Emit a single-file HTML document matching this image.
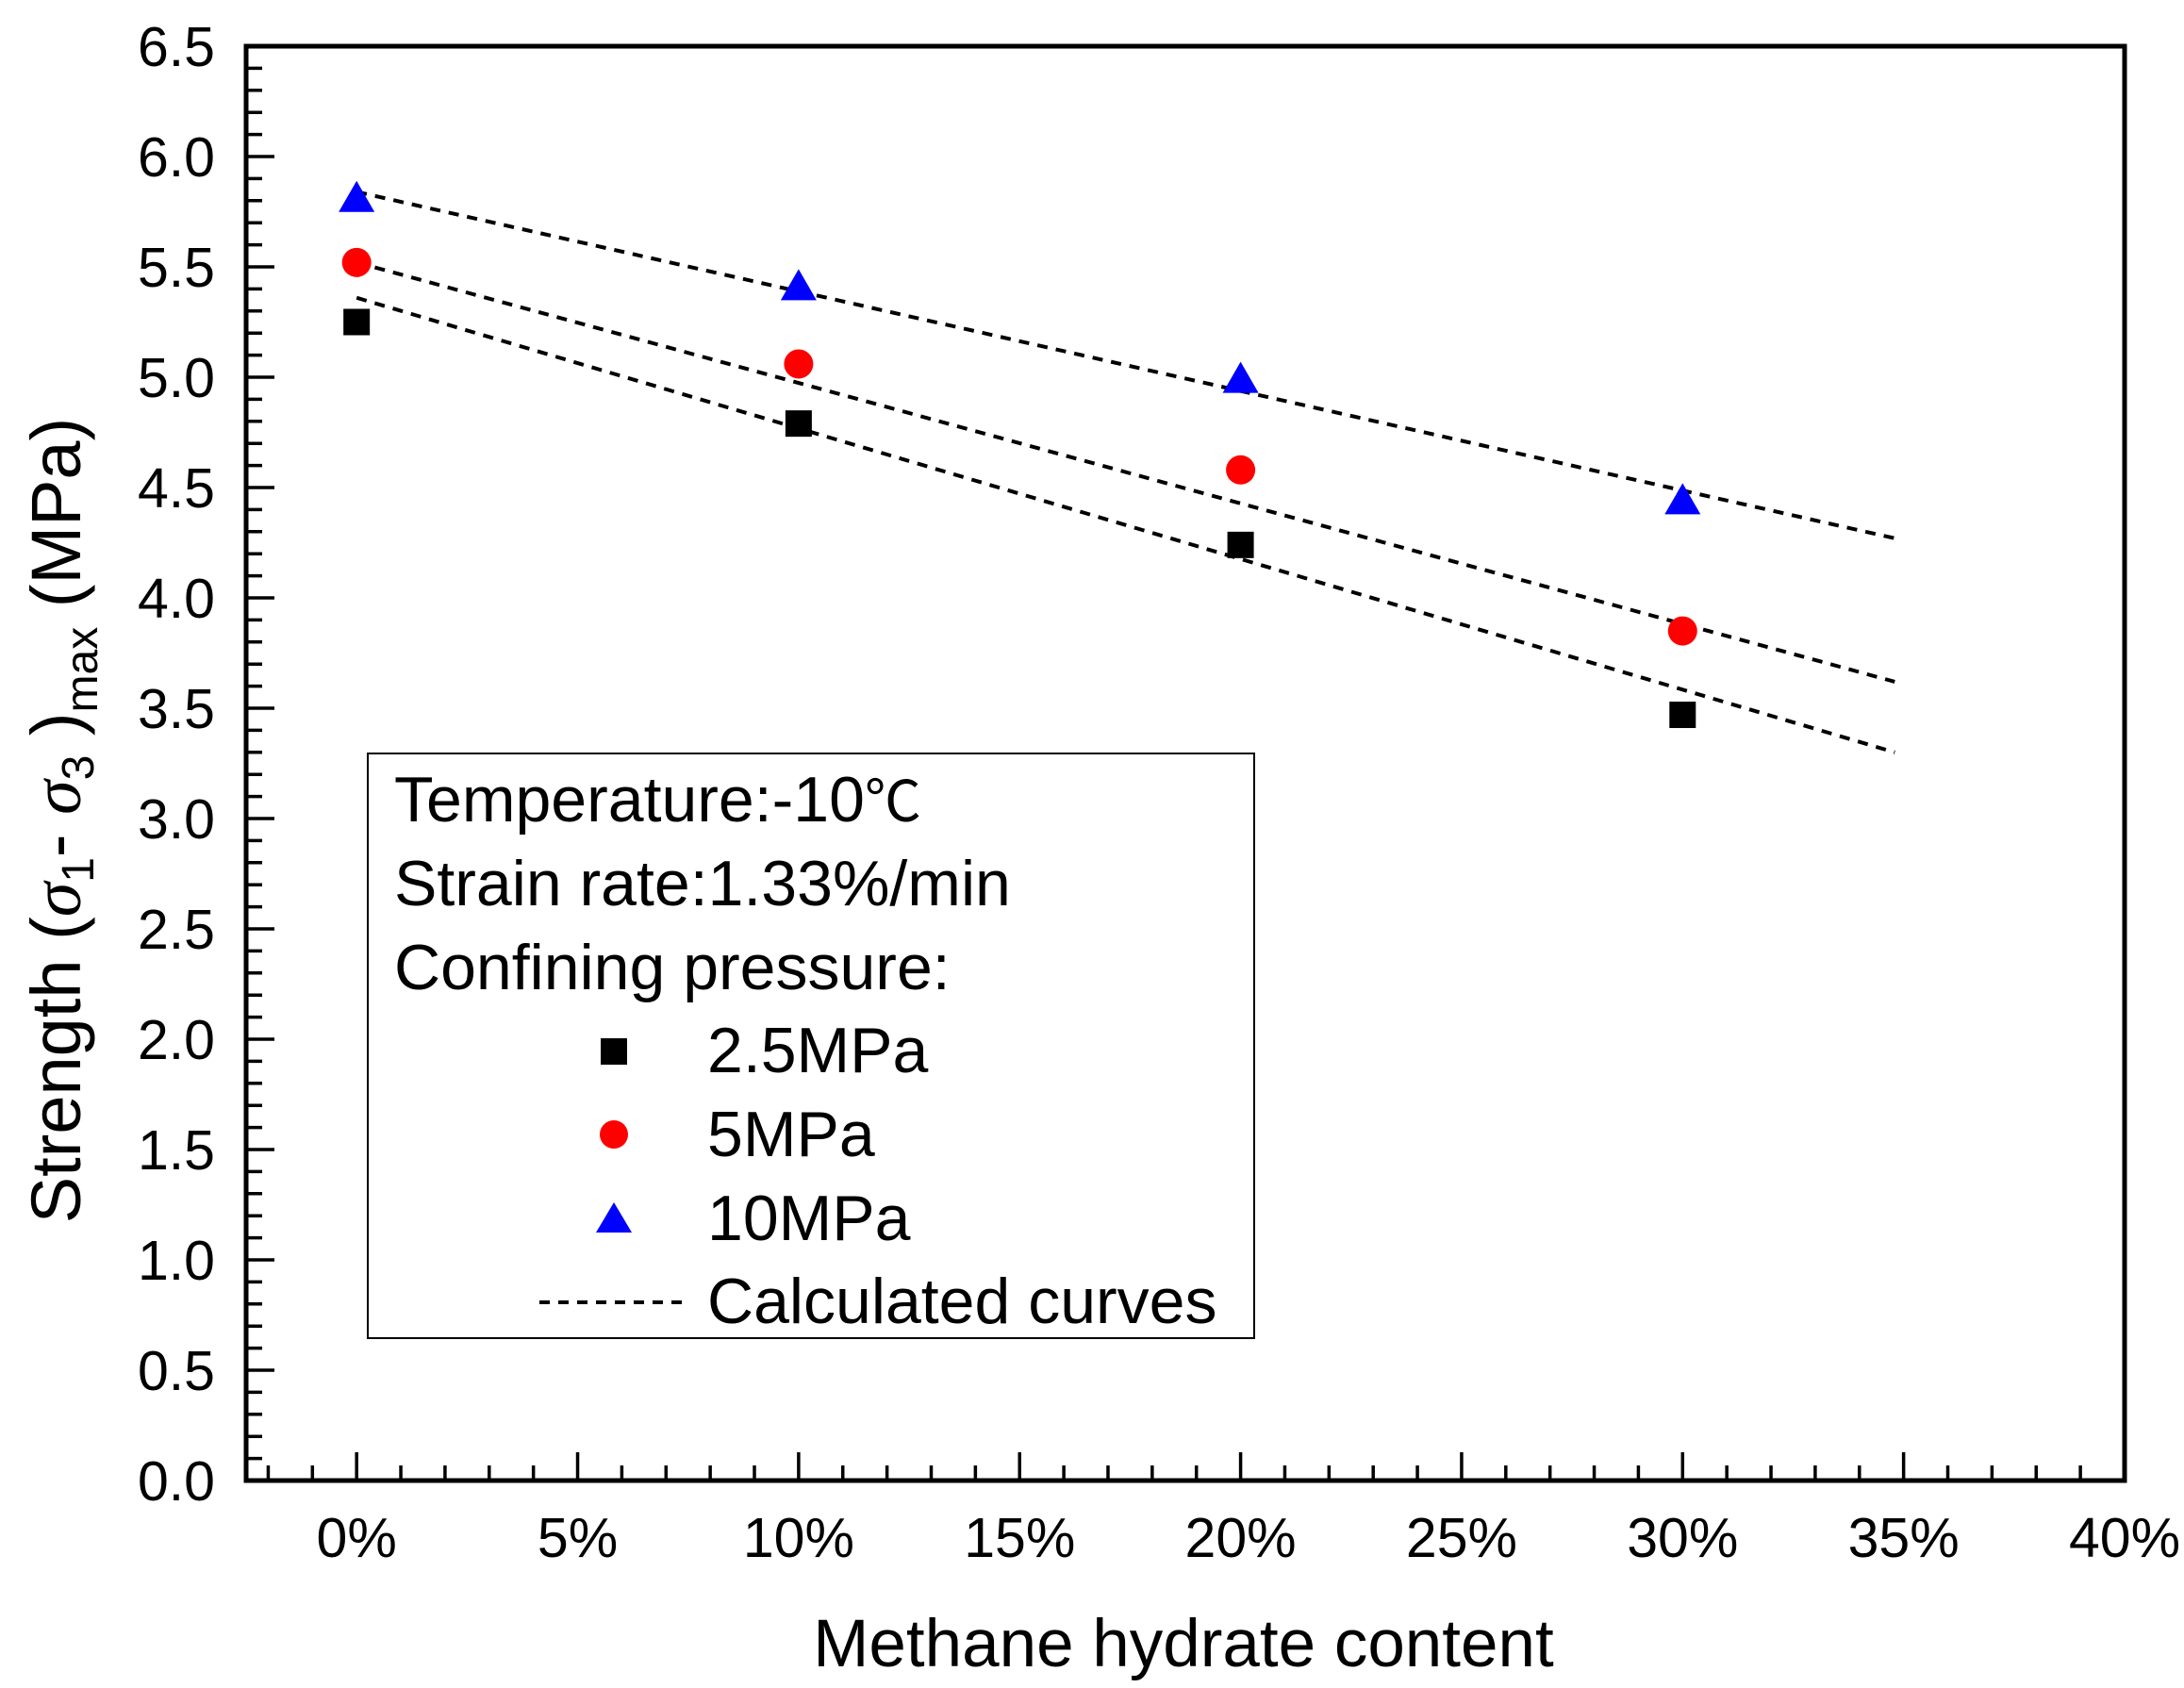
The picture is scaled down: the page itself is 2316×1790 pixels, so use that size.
<!DOCTYPE html>
<html><head><meta charset="utf-8"><style>
html,body{margin:0;padding:0;background:#fff;}
svg{display:block;font-family:"Liberation Sans",Arial,sans-serif;}
</style></head><body>
<svg id="chart" width="2316" height="1790" viewBox="0 0 2316 1790" xmlns="http://www.w3.org/2000/svg">
<g id="axes"></g>
<g id="lines"></g>
<g id="marks"></g>
<g id="legend">
  <rect x="390" y="799" width="940" height="620" fill="#fff" stroke="#000" stroke-width="2"/>
  <text x="418" y="871" font-size="68">Temperature:-10<tspan font-family="'Noto Sans CJK SC',sans-serif" font-size="60">℃</tspan></text>
  <text x="418" y="960" font-size="68">Strain rate:1.33%/min</text>
  <text x="418" y="1049" font-size="68">Confining pressure:</text>
  <rect x="637" y="1101" width="28" height="28" fill="#000"/>
  <text x="750" y="1137" font-size="68">2.5MPa</text>
  <circle cx="651" cy="1203" r="15" fill="#ff0000"/>
  <text x="750" y="1226" font-size="68">5MPa</text>
  <polygon points="651,1275 670,1307 632,1307" fill="#0000ff"/>
  <text x="750" y="1315" font-size="68">10MPa</text>
  <line x1="572" y1="1381" x2="724" y2="1381" stroke="#000" stroke-width="4" stroke-dasharray="11,9"/>
  <text x="750" y="1403" font-size="68">Calculated curves</text>
</g>
<text x="1255" y="1767" font-size="71" text-anchor="middle">Methane hydrate content</text>
<text transform="translate(85,870) rotate(-90)" font-size="74" text-anchor="middle">Strength (<tspan font-family="'Liberation Serif',serif" font-style="italic">σ</tspan><tspan font-size="48" dy="14">1</tspan><tspan dy="-14">- </tspan><tspan font-family="'Liberation Serif',serif" font-style="italic">σ</tspan><tspan font-size="48" dy="14">3</tspan><tspan dy="-14"> )</tspan><tspan font-size="48" dy="18">max</tspan><tspan dy="-18"> (MPa)</tspan></text>
<script>
const xTickValues = [0,5,10,15,20,25,30,35,40];
const xTickLabels = ["0%","5%","10%","15%","20%","25%","30%","35%","40%"];
const yTickValues = [0,0.5,1,1.5,2,2.5,3,3.5,4,4.5,5,5.5,6,6.5];
const yTickLabels = ["0.0","0.5","1.0","1.5","2.0","2.5","3.0","3.5","4.0","4.5","5.0","5.5","6.0","6.5"];
const hydrateContent = [0,10,20,30];
const strength2_5MPa = [5.25,4.79,4.24,3.47];
const strength5MPa = [5.52,5.06,4.58,3.85];
const strength10MPa = [5.80,5.40,4.98,4.43];
const curveX = [0,34.8];
const curve2_5MPa = [5.36,3.30];
const curve5MPa = [5.52,3.62];
const curve10MPa = [5.84,4.27];

const L=261,R=2253,T=49,B=1570;
const xMin=-2.5,xMax=40,yMin=0,yMax=6.5;
const sx=v=>L+(v-xMin)/(xMax-xMin)*(R-L);
const sy=v=>B-(v-yMin)/(yMax-yMin)*(B-T);
const NS="http://www.w3.org/2000/svg";
function mk(tag,attrs,parent){const e=document.createElementNS(NS,tag);for(const k in attrs)e.setAttribute(k,attrs[k]);parent.appendChild(e);return e;}
const axes=document.getElementById('axes');
const frame=mk('rect',{x:L,y:T,width:R-L,height:B-T,fill:'none',stroke:'#000','stroke-width':5},axes);


for(let v=-2;v<=40;v++){
  const major=v%5===0;
  const t=mk('line',{x1:sx(v),x2:sx(v),y1:B,y2:B-(major?30:16),stroke:'#000','stroke-width':3.5},axes);
  
  
}
xTickValues.forEach((v,i)=>{
  const t=mk('text',{x:sx(v),y:1651,'font-size':59,'text-anchor':'middle'},axes);
  t.textContent=xTickLabels[i];
  
  
});
for(let k=0;k<=65;k++){
  const v=k/10;const major=k%5===0;
  const t=mk('line',{x1:L,x2:L+(major?30:17),y1:sy(v),y2:sy(v),stroke:'#000','stroke-width':3.5},axes);
  
  
}
yTickValues.forEach((v,i)=>{
  const t=mk('text',{x:228,y:sy(v)+21,'font-size':59,'text-anchor':'end'},axes);
  t.textContent=yTickLabels[i];
  
  
});
const lines=document.getElementById('lines');
[[curve2_5MPa,'curve-2-5mpa'],[curve5MPa,'curve-5mpa'],[curve10MPa,'curve-10mpa']].forEach(([c,n])=>{
  const l=mk('line',{x1:sx(curveX[0]),y1:sy(c[0]),x2:sx(curveX[1]),y2:sy(c[1]),stroke:'#000','stroke-width':4,'stroke-dasharray':'11,9'},lines);
  
  
});
const marks=document.getElementById('marks');
hydrateContent.forEach((x,i)=>{
  const px=sx(x);
  let y=sy(strength2_5MPa[i]);
  const s=mk('rect',{x:px-14,y:y-14,width:28,height:28,fill:'#000'},marks);
  
  
  y=sy(strength5MPa[i]);
  const c=mk('circle',{cx:px,cy:y,r:15.5,fill:'#ff0000'},marks);
  
  
  y=sy(strength10MPa[i]);
  const p=mk('polygon',{points:`${px},${y-21} ${px+19},${y+12} ${px-19},${y+12}`,fill:'#0000ff'},marks);
  
  
});
</script>
</svg>
</body></html>
